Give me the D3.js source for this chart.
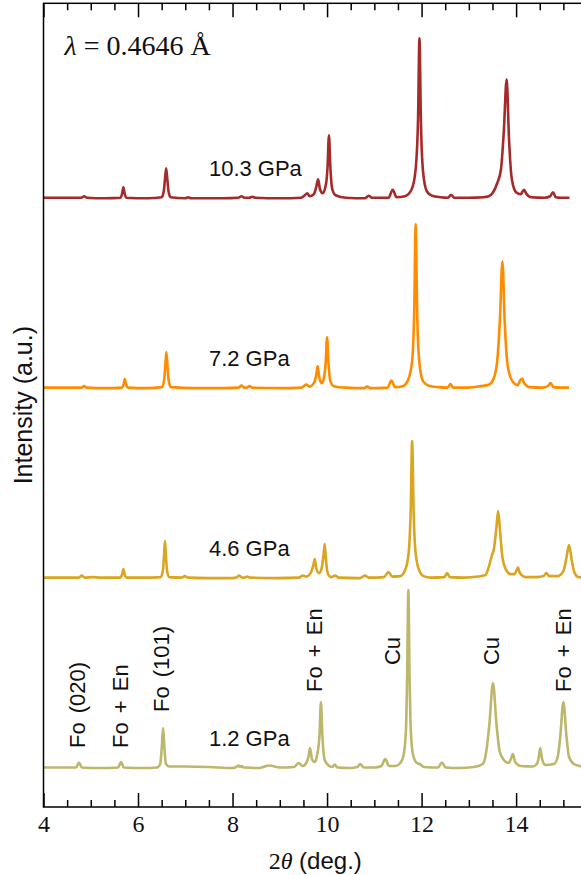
<!DOCTYPE html>
<html>
<head>
<meta charset="utf-8">
<script src="https://cdn.jsdelivr.net/npm/d3@7"></script>
<style>
  body { margin: 0; background: #fff; }
  svg { display: block; }
</style>
</head>
<body>
<div id="chart"></div>
<script>
// ---- data: [2theta (deg), intensity (a.u.)] ----
const pressures = ["1.2 GPa", "4.6 GPa", "7.2 GPa", "10.3 GPa"];
const offsets = [0, 190, 380, 570];
const colors = ["#bdb76b", "#daa520", "#ff8c00", "#a52a2a"];

const p12 = [[4.00,1.5],[4.40,1.5],[4.69,1.5],[4.75,6.5],[4.81,1.5],[5.20,1],[5.58,1.5],[5.64,7],[5.70,1.5],[6.10,1],
  [6.40,1.5],[6.47,5],[6.50,20],[6.53,41],[6.56,20],[6.59,5],[6.66,2.5],[7.00,2.5],[7.50,2],[8.00,1],[8.08,2],[8.13,3.5],
  [8.16,2],[8.19,3],[8.24,1.5],[8.55,1],[8.78,3.5],[9.00,1.5],[9.30,2],[9.40,6],[9.48,3],[9.56,6],[9.61,13],[9.64,21],
  [9.68,10],[9.74,7],[9.79,14],[9.84,34],[9.87,67],[9.90,34],[9.95,9],[10.05,3],[10.11,2],[10.16,4.5],[10.22,1.5],
  [10.50,1],[10.64,2],[10.70,5],[10.78,1.5],[11.00,1.5],[11.15,3],[11.23,10],[11.31,3],[11.45,3],[11.55,6],[11.62,14],
  [11.67,40],[11.695,95],[11.72,179],[11.745,95],[11.77,40],[11.82,14],[11.90,6],[11.96,5],[12.05,2],[12.35,1.5],
  [12.43,6.5],[12.51,1.5],[12.80,1],[13.10,2],[13.25,4],[13.31,6],[13.37,18],[13.435,45],[13.51,86],[13.585,45],
  [13.65,18],[13.74,9],[13.84,6],[13.89,10],[13.93,15],[13.98,7],[14.10,3],[14.35,2.5],[14.44,5],[14.48,12],[14.51,21],
  [14.55,10],[14.62,4],[14.80,5],[14.88,12],[14.935,33],[15.00,67],[15.065,33],[15.12,12],[15.22,5],[15.35,3],[15.50,2]];

const p46 = [[4.00,1.5],[4.40,1.5],[4.75,1.5],[4.81,3.5],[4.87,1.5],[5.05,2],[5.20,1.5],[5.62,1.5],[5.665,5],[5.69,10],
  [5.715,5],[5.76,1.5],[6.10,1.5],[6.48,2],[6.525,8],[6.55,24],[6.57,38],[6.59,24],[6.615,8],[6.66,2],[6.93,1.5],[6.99,3],
  [7.05,1.5],[7.50,1],[8.00,1],[8.08,1.5],[8.14,3.5],[8.20,1.5],[8.25,1.5],[8.31,2.5],[8.37,1.5],[8.90,1],[9.40,1.5],
  [9.49,3.5],[9.56,2.5],[9.65,6],[9.71,14],[9.74,20],[9.77,11],[9.83,6],[9.89,12],[9.925,24],[9.95,35],[9.975,20],
  [10.02,5],[10.09,2],[10.17,3.5],[10.24,1.5],[10.70,1],[10.80,3.5],[10.88,1.5],[11.20,2],[11.30,7],[11.38,2.5],[11.55,3],
  [11.66,10],[11.73,28],[11.77,70],[11.80,138],[11.83,70],[11.87,28],[11.94,10],[12.04,3],[12.20,1.5],[12.48,2],[12.54,6],
  [12.60,2],[12.90,1.5],[13.20,2.5],[13.30,3.5],[13.35,4],[13.42,12],[13.49,24],[13.53,30],[13.58,50],[13.62,68],
  [13.66,48],[13.71,22],[13.78,10],[13.88,5],[13.97,5],[14.01,9],[14.04,11.5],[14.08,6],[14.20,2],[14.45,2],[14.58,3],
  [14.64,6],[14.70,3],[14.88,3],[15.00,8],[15.06,20],[15.12,34],[15.18,18],[15.24,6],[15.32,2],[15.50,1.5]];

const p72 = [[4.00,1.5],[4.50,1.5],[4.80,1.5],[4.86,3],[4.92,1.5],[5.30,1],[5.66,1.5],[5.695,5],[5.72,10],[5.745,5],
  [5.79,1.5],[6.20,1],[6.50,2],[6.55,8],[6.575,22],[6.60,37],[6.625,22],[6.65,8],[6.70,2],[7.20,1],[7.80,1],[8.12,1.5],
  [8.19,3.5],[8.25,1.5],[8.30,1.5],[8.36,3],[8.42,1.5],[9.00,1],[9.45,1.5],[9.56,4.5],[9.63,2.5],[9.72,6],[9.77,14],
  [9.80,23],[9.83,13],[9.89,6],[9.94,13],[9.97,26],[10.00,52],[10.03,26],[10.07,8],[10.14,3],[10.40,1.5],[10.78,1],
  [10.85,2.5],[10.92,1],[11.28,1.5],[11.36,8.5],[11.44,2],[11.60,3],[11.72,10],[11.80,28],[11.845,80],[11.875,165],
  [11.905,80],[11.95,28],[12.03,8],[12.15,3.5],[12.35,2],[12.55,1.5],[12.61,5],[12.67,1.5],[13.00,1.5],[13.25,3],
  [13.42,4.5],[13.52,10],[13.60,28],[13.66,72],[13.71,128],[13.76,66],[13.82,24],[13.92,8],[14.03,4],[14.09,9],
  [14.13,10.5],[14.17,6],[14.28,2],[14.55,1.5],[14.67,3],[14.73,6],[14.79,2],[14.95,1.5],[15.12,1.5]];

const p103 = [[4.00,1.5],[4.50,1.5],[4.80,1.5],[4.86,3],[4.92,1.5],[5.30,1],[5.63,1.5],[5.665,6],[5.69,12],[5.715,6],
  [5.75,1.5],[6.20,1],[6.50,2],[6.545,8],[6.57,20],[6.595,31],[6.62,20],[6.645,8],[6.69,2],[7.00,1],[7.06,2],[7.12,1],
  [7.80,1],[8.12,1.5],[8.19,3],[8.25,1.5],[8.35,1.5],[8.42,2.5],[8.48,1.5],[9.00,1],[9.45,1.5],[9.53,4],[9.58,6],
  [9.63,3],[9.72,5],[9.77,12],[9.81,20],[9.85,10],[9.91,6],[9.98,16],[10.01,32],[10.04,64],[10.07,32],[10.11,10],
  [10.18,4],[10.40,1.5],[10.80,1],[10.88,3.5],[10.95,1.5],[11.30,1.5],[11.39,9.5],[11.47,2],[11.65,3],[11.79,10],
  [11.87,28],[11.925,80],[11.955,161],[11.985,80],[12.03,28],[12.11,8],[12.22,3.5],[12.40,2],[12.56,1.5],[12.625,4.5],
  [12.69,1.5],[13.00,1.5],[13.30,2],[13.42,3],[13.50,6],[13.60,16],[13.68,30],[13.74,68],[13.80,120],[13.85,60],
  [13.91,20],[14.00,7],[14.10,5],[14.14,8],[14.17,9.5],[14.21,6],[14.32,2],[14.60,1.5],[14.72,3],[14.78,7],[14.84,2],
  [14.95,1.5],[15.13,1.5]];

const series = [p12, p46, p72, p103];

// axis ticks
const xMajor = [4, 6, 8, 10, 12, 14];
const xMinor = [4.5, 5, 5.5, 6.5, 7, 7.5, 8.5, 9, 9.5, 10.5, 11, 11.5, 12.5, 13, 13.5, 14.5, 15];

// peak assignments on the 1.2 GPa pattern: text, 2theta of label, intensity where label starts
const peakNames = ["Fo (020)", "Fo + En", "Fo (101)", "Fo + En", "Cu", "Cu", "Fo + En"];
const peakAt = [4.71, 5.62, 6.50, 9.72, 11.38, 13.47, 14.99];
const peakLevel = [21, 21, 57, 77, 104, 104, 77];

const pressureAt = 7.5;
const pressureLevel = 23;

class XrdChart {
  constructor(_config) {
    this.config = {
      parentElement: _config.parentElement,
      containerWidth: 581,
      containerHeight: 875,
      margin: {top: 3.3, left: 43.5},
      plotWidth: 543.5,
      plotHeight: 803.7
    };
    this.initVis();
  }

  initVis() {
    let vis = this;
    const c = vis.config;

    vis.xScale = d3.scaleLinear().domain([4, 15.5]).range([0, c.plotWidth]);
    vis.yScale = d3.scaleLinear().domain([-38, 766]).range([c.plotHeight, 0]);

    vis.svg = d3.select(c.parentElement).append('svg')
      .attr('width', c.containerWidth)
      .attr('height', c.containerHeight);

    vis.g = vis.svg.append('g')
      .attr('transform', `translate(${c.margin.left},${c.margin.top})`);

    vis.g.append('clipPath').attr('id', 'plot-clip')
      .append('rect').attr('width', c.plotWidth).attr('height', c.plotHeight);

    vis.renderVis();
  }

  renderVis() {
    let vis = this;
    const c = vis.config;
    const sans = "'Liberation Sans', Arial, sans-serif";
    const serif = "'Liberation Serif', 'Times New Roman', serif";

    const line = d3.line()
      .x(d => vis.xScale(d[0]))
      .y(d => vis.yScale(d[1]))
      .curve(d3.curveMonotoneX);

    // patterns, stacked with offsets
    vis.g.append('g').attr('clip-path', 'url(#plot-clip)')
      .selectAll('path')
      .data(series)
      .join('path')
      .attr('d', (s, i) => line(s.map(d => [d[0], d[1] + offsets[i]])))
      .attr('fill', 'none')
      .attr('stroke', (s, i) => colors[i])
      .attr('stroke-width', 2.6)
      .attr('stroke-linejoin', 'round');

    // pressure labels
    vis.g.selectAll('.plabel')
      .data(pressures)
      .join('text')
      .attr('class', 'plabel')
      .attr('x', vis.xScale(pressureAt))
      .attr('y', (d, i) => vis.yScale(offsets[i] + pressureLevel))
      .attr('font-family', sans)
      .attr('font-size', 22)
      .attr('fill', '#111')
      .text(d => d);

    // peak assignments (rotated)
    vis.g.selectAll('.peak')
      .data(peakNames)
      .join('text')
      .attr('class', 'peak')
      .attr('transform', (d, i) => `translate(${vis.xScale(peakAt[i])},${vis.yScale(peakLevel[i])}) rotate(-90)`)
      .attr('dy', '0.35em')
      .attr('font-family', sans)
      .attr('font-size', 22)
      .attr('word-spacing', 3)
      .attr('fill', '#111')
      .text(d => d);

    // wavelength note
    const lam = vis.g.append('text')
      .attr('x', 21)
      .attr('y', 52)
      .attr('font-family', serif)
      .attr('font-size', 28)
      .attr('fill', '#111');
    lam.append('tspan').attr('font-style', 'italic').text('λ');
    lam.append('tspan').text(' = 0.4646 Å');

    // axes: ticks point inward on top and bottom
    const bottomMajor = d3.axisBottom(vis.xScale).tickValues(xMajor).tickSize(-14).tickPadding(8).tickSizeOuter(0);
    const bottomMinor = d3.axisBottom(vis.xScale).tickValues(xMinor).tickSize(-7).tickFormat('').tickSizeOuter(0);
    const topMajor = d3.axisTop(vis.xScale).tickValues(xMajor).tickSize(-14).tickFormat('').tickSizeOuter(0);
    const topMinor = d3.axisTop(vis.xScale).tickValues(xMinor).tickSize(-7).tickFormat('').tickSizeOuter(0);

    const xb = vis.g.append('g').attr('transform', `translate(0,${c.plotHeight})`);
    xb.call(bottomMajor);
    xb.append('g').call(bottomMinor);
    const xt = vis.g.append('g');
    xt.call(topMajor);
    xt.append('g').call(topMinor);

    vis.g.selectAll('.domain').remove();
    vis.g.selectAll('.tick line').attr('stroke', '#000').attr('stroke-width', 1.5);
    xb.selectAll('.tick text')
      .attr('font-family', serif)
      .attr('font-size', 24)
      .attr('fill', '#111');

    // frame
    vis.g.append('rect')
      .attr('width', c.plotWidth)
      .attr('height', c.plotHeight)
      .attr('fill', 'none')
      .attr('stroke', '#000')
      .attr('stroke-width', 1.5);

    // axis titles
    const xt2 = vis.g.append('text')
      .attr('x', c.plotWidth / 2)
      .attr('y', c.plotHeight + 62)
      .attr('text-anchor', 'middle')
      .attr('font-size', 24)
      .attr('fill', '#111');
    xt2.append('tspan').attr('font-family', serif).text('2');
    xt2.append('tspan').attr('font-family', serif).attr('font-style', 'italic').text('θ');
    xt2.append('tspan').attr('font-family', sans).text(' (deg.)');

    vis.svg.append('text')
      .attr('transform', `translate(32,${c.margin.top + c.plotHeight / 2}) rotate(-90)`)
      .attr('text-anchor', 'middle')
      .attr('font-family', sans)
      .attr('font-size', 25)
      .attr('fill', '#111')
      .text('Intensity (a.u.)');
  }
}

new XrdChart({parentElement: '#chart'});
</script>
</body>
</html>
